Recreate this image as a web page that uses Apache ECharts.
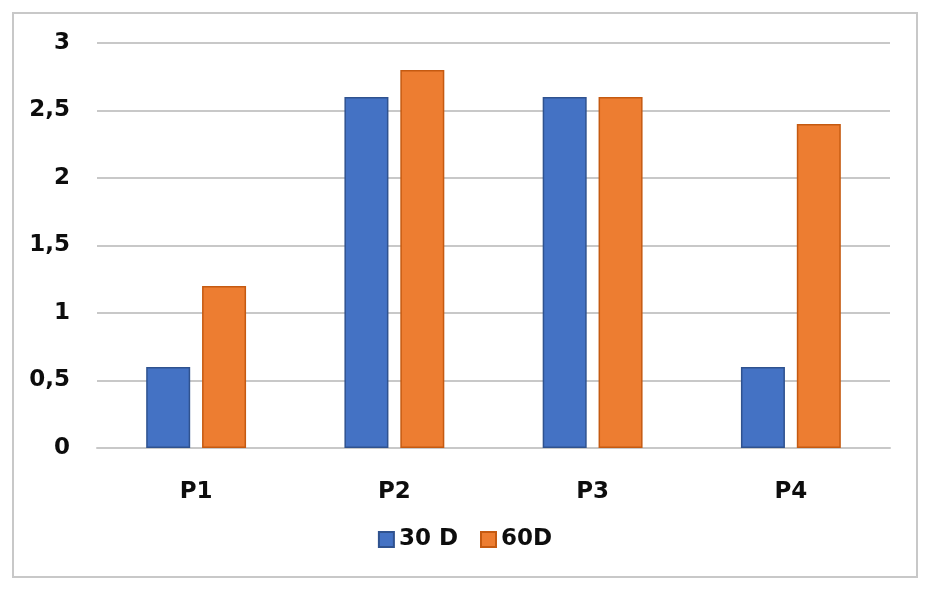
<!DOCTYPE html>
<html>
<head>
<meta charset="utf-8">
<script src="https://cdn.jsdelivr.net/npm/echarts@6/dist/echarts.min.js"></script>
<style>
  html, body { margin: 0; padding: 0; background: #fff; }
  #root { width: 930px; height: 589px; }
</style>
</head>
<body>
<div id="root"></div>
<script>
const categories = ['P1', 'P2', 'P3', 'P4'];
const days30 = [0.6, 2.6, 2.6, 0.6];
const days60 = [1.2, 2.8, 2.6, 2.4];

const chart = echarts.init(document.getElementById('root'));

const labelFont = {
  fontFamily: 'DejaVu Sans, Arial, sans-serif',
  fontWeight: 'bold',
  fontSize: 23,
  color: '#0d0d0d'
};

const option = {
  animation: false,
  backgroundColor: '#fff',
  graphic: [{
    type: 'rect',
    shape: { x: 13, y: 13, width: 904, height: 564 },
    style: { fill: 'none', stroke: '#c8c8c8', lineWidth: 2 },
    silent: true
  }],
  grid: { left: 97, right: 40, top: 43, bottom: 141 },
  legend: {
    bottom: 33,
    left: 'center',
    icon: 'rect',
    itemWidth: 15,
    itemHeight: 15,
    itemGap: 22,
    itemTextGap: 7,
    textStyle: labelFont,
    data: ['30 D', '60D']
  },
  xAxis: {
    type: 'category',
    data: categories,
    axisLine: { lineStyle: { color: '#c8c8c8', width: 2 } },
    axisTick: { show: false },
    axisLabel: Object.assign({ margin: 33 }, labelFont)
  },
  yAxis: {
    type: 'value',
    min: 0,
    max: 3,
    interval: 0.5,
    axisLine: { show: false },
    axisTick: { show: false },
    splitLine: { lineStyle: { color: '#c8c8c8', width: 2 } },
    axisLabel: Object.assign({
      margin: 27,
      formatter: v => String(v).replace('.', ',')
    }, labelFont)
  },
  series: [
    {
      name: '30 D',
      type: 'bar',
      data: days30,
      barWidth: 44,
      barGap: '27%',
      itemStyle: { color: '#4472c4', borderColor: '#2f528f', borderWidth: 1.5 }
    },
    {
      name: '60D',
      type: 'bar',
      data: days60,
      barWidth: 44,
      itemStyle: { color: '#ed7d31', borderColor: '#c55a11', borderWidth: 1.5 }
    }
  ]
};

chart.setOption(option);
</script>
</body>
</html>
